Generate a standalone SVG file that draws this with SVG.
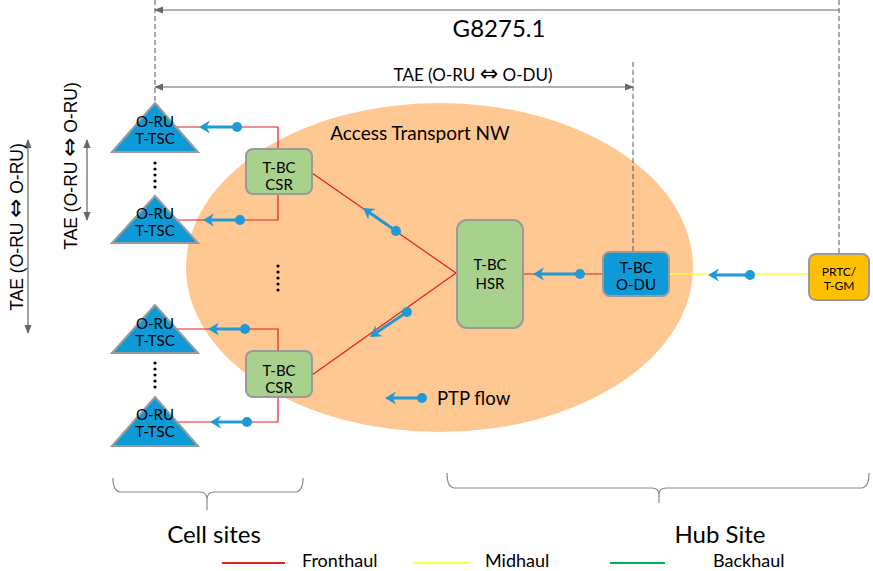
<svg xmlns="http://www.w3.org/2000/svg" width="873" height="571" viewBox="0 0 873 571">
<style>
.t{font-family:Lato,"Liberation Sans",sans-serif;fill:#000}
.a{font-family:"Liberation Sans",Arial,sans-serif;fill:#000}
.arr{font-family:"DejaVu Sans",sans-serif;font-size:1.3em}
.red{stroke:#E3211B;stroke-width:1.2;fill:none}
.yel{stroke:#FFFF3C;stroke-width:1.5;fill:none}
.dash{stroke:#555;stroke-width:1;stroke-dasharray:5,3;fill:none}
.dim{stroke:#666;stroke-width:1.2;fill:none}
.ptp{stroke:#1E9AD6;stroke-width:3;fill:none}
.dot{fill:#1E9AD6}
.tri{fill:#0E9AD6;stroke:#9A9A9A;stroke-width:2}
.grn{fill:#A9D18E;stroke:#9A9A9A;stroke-width:2}
.blu{fill:#0E9AD6;stroke:#9A9A9A;stroke-width:2}
.org{fill:#FFC000;stroke:#9A9A9A;stroke-width:2}
.brace{stroke:#888;stroke-width:1.2;fill:none}
</style>
<defs>
<marker id="ah" viewBox="-7 -7 14 14" refX="0" refY="0" markerWidth="14" markerHeight="14" markerUnits="userSpaceOnUse" orient="auto">
<path d="M-6,0 L5,-6.5 L1.5,0 L5,6.5 Z" fill="#1E9AD6"/>
</marker>
<marker id="dh" viewBox="0 -5 10 10" refX="9" refY="0" markerWidth="9" markerHeight="9" markerUnits="userSpaceOnUse" orient="auto-start-reverse">
<path d="M0,-4 L10,0 L0,4 Z" fill="#666"/>
</marker>
</defs>

<ellipse id="access-nw" cx="439.5" cy="267.5" rx="253.5" ry="164.5" fill="#FFC791"/>
<text class="t" x="420" y="140" font-size="19" text-anchor="middle">Access Transport NW</text>

<g id="dimensions">
<path class="dash" d="M155,0 V103"/>
<path class="dash" d="M633,62 V252"/>
<path class="dash" d="M839,0 V254"/>
<path class="dim" d="M839,10 H155" marker-end="url(#dh)"/>
<text class="t" x="499" y="37" font-size="24" text-anchor="middle">G8275.1</text>
<path class="dim" d="M155,87 H633" marker-start="url(#dh)" marker-end="url(#dh)"/>
<text class="t" x="473" y="81" font-size="17" text-anchor="middle">TAE (O-RU <tspan class="arr">⇔</tspan> O-DU)</text>
<path class="dim" d="M28,140 V333" marker-start="url(#dh)" marker-end="url(#dh)"/>
<text class="a" transform="translate(23,227) rotate(-90)" font-size="17.5" text-anchor="middle">TAE (O-RU <tspan class="arr">⇔</tspan> O-RU)</text>
<path class="dim" d="M87,140 V220" marker-start="url(#dh)" marker-end="url(#dh)"/>
<text class="a" transform="translate(77,166) rotate(-90)" font-size="17.5" text-anchor="middle">TAE (O-RU <tspan class="arr">⇔</tspan> O-RU)</text>
</g>

<g id="connectors">
<path class="red" d="M176,127 H278 V149"/>
<path class="red" d="M278,194 V220 H177"/>
<path class="red" d="M278,351 V329 H176"/>
<path class="red" d="M278,397 V422 H177"/>
<path class="red" d="M312,173 L456,273 L312,375"/>
<path class="red" d="M523,274 H603"/>
<path class="yel" d="M669,274 H809"/>
</g>

<g id="ptp-flows">
<path class="ptp" d="M205,127 H237" marker-start="url(#ah)"/><circle class="dot" cx="237" cy="127" r="5"/>
<path class="ptp" d="M209,220 H240" marker-start="url(#ah)"/><circle class="dot" cx="240" cy="220" r="5"/>
<path class="ptp" d="M214,329 H245" marker-start="url(#ah)"/><circle class="dot" cx="245" cy="329" r="5"/>
<path class="ptp" d="M216,422 H247" marker-start="url(#ah)"/><circle class="dot" cx="247" cy="422" r="5"/>
<path class="ptp" d="M367.9,211.4 L396,231" marker-start="url(#ah)"/><circle class="dot" cx="396" cy="231" r="5"/>
<path class="ptp" d="M375,333.6 L407,312" marker-start="url(#ah)"/><circle class="dot" cx="407" cy="312" r="5"/>
<path class="ptp" d="M539,274 H580" marker-start="url(#ah)"/><circle class="dot" cx="580" cy="274" r="5"/>
<path class="ptp" d="M714,275 H750" marker-start="url(#ah)"/><circle class="dot" cx="750" cy="275" r="5"/>
</g>

<g id="oru-1">
<path class="tri" d="M155,103 L198,152 L112,152 Z"/>
<text class="t" x="155" y="127" font-size="15" text-anchor="middle">O-RU</text>
<text class="t" x="155" y="144" font-size="15" text-anchor="middle">T-TSC</text>
</g>
<g id="oru-2">
<path class="tri" d="M155,196 L198,243 L112,243 Z"/>
<text class="t" x="155" y="219" font-size="15" text-anchor="middle">O-RU</text>
<text class="t" x="155" y="236" font-size="15" text-anchor="middle">T-TSC</text>
</g>
<g id="oru-3">
<path class="tri" d="M155,305 L198,353 L112,353 Z"/>
<text class="t" x="155" y="329" font-size="15" text-anchor="middle">O-RU</text>
<text class="t" x="155" y="346" font-size="15" text-anchor="middle">T-TSC</text>
</g>
<g id="oru-4">
<path class="tri" d="M155,397 L198,446 L112,446 Z"/>
<text class="t" x="155" y="420" font-size="15" text-anchor="middle">O-RU</text>
<text class="t" x="155" y="437" font-size="15" text-anchor="middle">T-TSC</text>
</g>

<g id="ellipsis-dots" fill="#000">
<circle cx="155" cy="163" r="1.6"/><circle cx="155" cy="169" r="1.6"/><circle cx="155" cy="175" r="1.6"/><circle cx="155" cy="181" r="1.6"/><circle cx="155" cy="187" r="1.6"/>
<circle cx="155" cy="363" r="1.6"/><circle cx="155" cy="369" r="1.6"/><circle cx="155" cy="375" r="1.6"/><circle cx="155" cy="381" r="1.6"/><circle cx="155" cy="387" r="1.6"/>
<circle cx="278" cy="266" r="1.6"/><circle cx="278" cy="272" r="1.6"/><circle cx="278" cy="278" r="1.6"/><circle cx="278" cy="284" r="1.6"/><circle cx="278" cy="290" r="1.6"/>
</g>

<g id="csr-1">
<rect class="grn" x="246" y="149" width="66" height="45" rx="7"/>
<text class="t" x="279" y="173" font-size="15" text-anchor="middle">T-BC</text>
<text class="t" x="279" y="190" font-size="15" text-anchor="middle">CSR</text>
</g>
<g id="csr-2">
<rect class="grn" x="246" y="351" width="66" height="46" rx="7"/>
<text class="t" x="279" y="376" font-size="15" text-anchor="middle">T-BC</text>
<text class="t" x="279" y="393" font-size="15" text-anchor="middle">CSR</text>
</g>
<g id="hsr">
<rect class="grn" x="457" y="220" width="66" height="108" rx="10"/>
<text class="t" x="490" y="270" font-size="15" text-anchor="middle">T-BC</text>
<text class="t" x="490" y="289" font-size="15" text-anchor="middle">HSR</text>
</g>
<g id="odu">
<rect class="blu" x="603" y="252" width="66" height="44" rx="7"/>
<text class="t" x="636" y="273" font-size="15" text-anchor="middle">T-BC</text>
<text class="t" x="636" y="290" font-size="15" text-anchor="middle">O-DU</text>
</g>
<g id="prtc">
<rect class="org" x="809" y="254" width="60" height="46" rx="7"/>
<text class="t" x="839" y="276" font-size="12" text-anchor="middle">PRTC/</text>
<text class="t" x="839" y="290" font-size="12" text-anchor="middle">T-GM</text>
</g>

<g id="ptp-legend">
<path class="ptp" d="M391,398 H422" marker-start="url(#ah)"/><circle class="dot" cx="422" cy="398" r="5"/>
<text class="t" x="437" y="405" font-size="18.5">PTP flow</text>
</g>

<g id="sites">
<path class="brace" d="M113,478 Q113,492 121,492 H200 Q207,492 207,500 V510 M207,500 Q207,492 214,492 H295 Q303,492 303,478"/>
<text class="t" x="214" y="543" font-size="24" text-anchor="middle">Cell sites</text>
<path class="brace" d="M447,473 Q447,488 455,488 H652 Q659,488 659,495 V503 M659,495 Q659,488 666,488 H861 Q869,488 869,473"/>
<text class="t" x="720" y="543" font-size="24" text-anchor="middle">Hub Site</text>
</g>

<g id="legend">
<path d="M222,563 H285" stroke="#E3211B" stroke-width="2"/>
<text class="t" x="302" y="567" font-size="18">Fronthaul</text>
<path d="M413,563 H470" stroke="#FFFF3C" stroke-width="2"/>
<text class="t" x="485" y="567" font-size="18">Midhaul</text>
<path d="M610,563 H665" stroke="#00B050" stroke-width="2"/>
<text class="t" x="713" y="567" font-size="18">Backhaul</text>
</g>
</svg>
